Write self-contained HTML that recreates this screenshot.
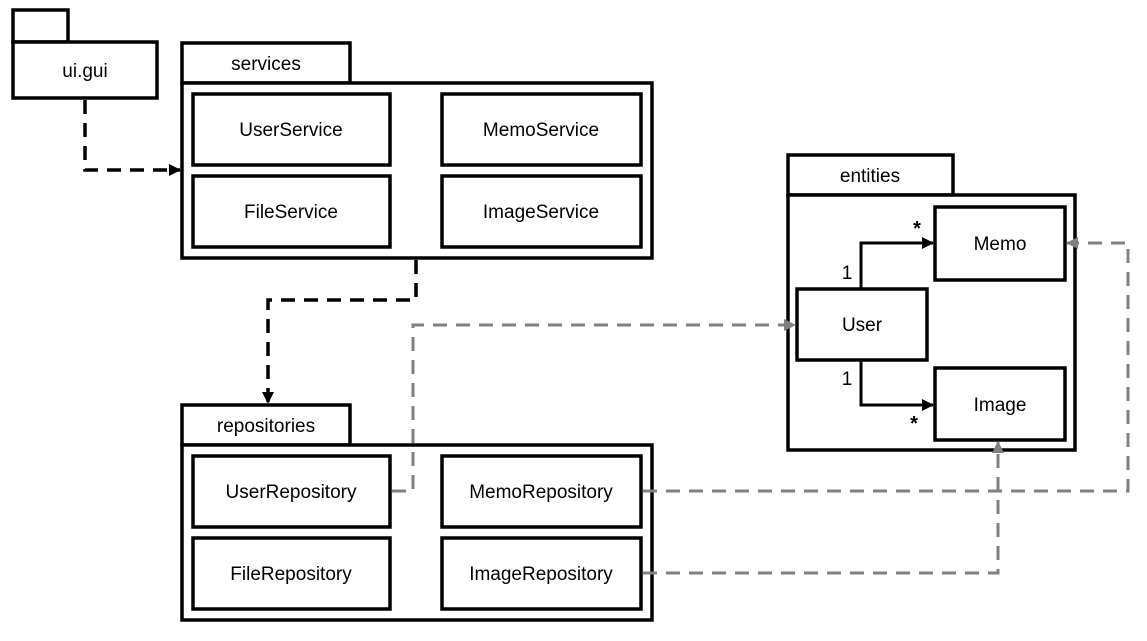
<!DOCTYPE html>
<html><head><style>body{margin:0;background:#fff}</style></head><body>
<svg width="1147" height="636" xmlns="http://www.w3.org/2000/svg" font-family="Liberation Sans, sans-serif" font-size="19">
<defs>
<marker id="ab" markerWidth="12" markerHeight="12" refX="11" refY="6" orient="auto" markerUnits="userSpaceOnUse"><path d="M0,0 L12,6 L0,12z" fill="#000"/></marker>
<marker id="ag" markerWidth="12" markerHeight="12" refX="11" refY="6" orient="auto" markerUnits="userSpaceOnUse"><path d="M0,0 L12,6 L0,12z" fill="#808080"/></marker>
</defs>
<g fill="#fff" stroke="#000" stroke-width="3.5">
<rect x="13" y="10" width="55" height="32"/><rect x="13" y="42" width="144" height="56"/>
<rect x="182" y="43" width="168" height="40"/><rect x="182" y="83" width="470" height="175"/>
<rect x="193" y="94" width="197" height="71"/><rect x="442" y="94" width="199" height="71"/>
<rect x="193" y="176" width="197" height="71"/><rect x="442" y="176" width="199" height="71"/>
<rect x="182" y="405" width="168" height="40"/><rect x="182" y="445" width="470" height="175"/>
<rect x="193" y="456" width="197" height="71"/><rect x="442" y="456" width="199" height="71"/>
<rect x="193" y="538" width="197" height="71"/><rect x="442" y="538" width="199" height="71"/>
<rect x="788" y="155" width="165" height="40"/><rect x="788" y="195" width="287" height="255"/>
<rect x="935" y="207" width="130" height="73"/><rect x="797" y="289" width="130" height="71"/>
<rect x="935" y="368" width="130" height="72"/>
</g>
<g fill="none" stroke="#000" stroke-width="3.5" stroke-dasharray="14,9">
<path d="M85 100 V170 H180" marker-end="url(#ab)"/>
<path d="M416 260 V300 H268 V403" marker-end="url(#ab)"/>
</g>
<g fill="none" stroke="#000" stroke-width="3">
<path d="M861 289 V243 H933" marker-end="url(#ab)"/>
<path d="M861 360 V405 H933" marker-end="url(#ab)"/>
</g>
<g fill="none" stroke="#808080" stroke-width="3" stroke-dasharray="14,9">
<path d="M392 491 H413 V325 H795" marker-end="url(#ag)"/>
<path d="M643 491 H1128 V243 H1067" marker-end="url(#ag)"/>
<path d="M643 573 H998 V442" marker-end="url(#ag)"/>
</g>
<g text-anchor="middle" fill="#000">
<text x="85" y="77">ui.gui</text>
<text x="266" y="70">services</text>
<text x="291" y="136">UserService</text><text x="541" y="136">MemoService</text>
<text x="291" y="218">FileService</text><text x="541" y="218">ImageService</text>
<text x="266" y="432">repositories</text>
<text x="291" y="498">UserRepository</text><text x="541" y="498">MemoRepository</text>
<text x="291" y="580">FileRepository</text><text x="541" y="580">ImageRepository</text>
<text x="870" y="182">entities</text>
<text x="1000" y="250">Memo</text><text x="862" y="331">User</text><text x="1000" y="411">Image</text>
<text x="847" y="279">1</text><text x="847" y="385">1</text>
<text x="917" y="235" font-size="20" font-weight="bold">*</text><text x="914" y="430" font-size="20" font-weight="bold">*</text>
</g>
</svg>
</body></html>
